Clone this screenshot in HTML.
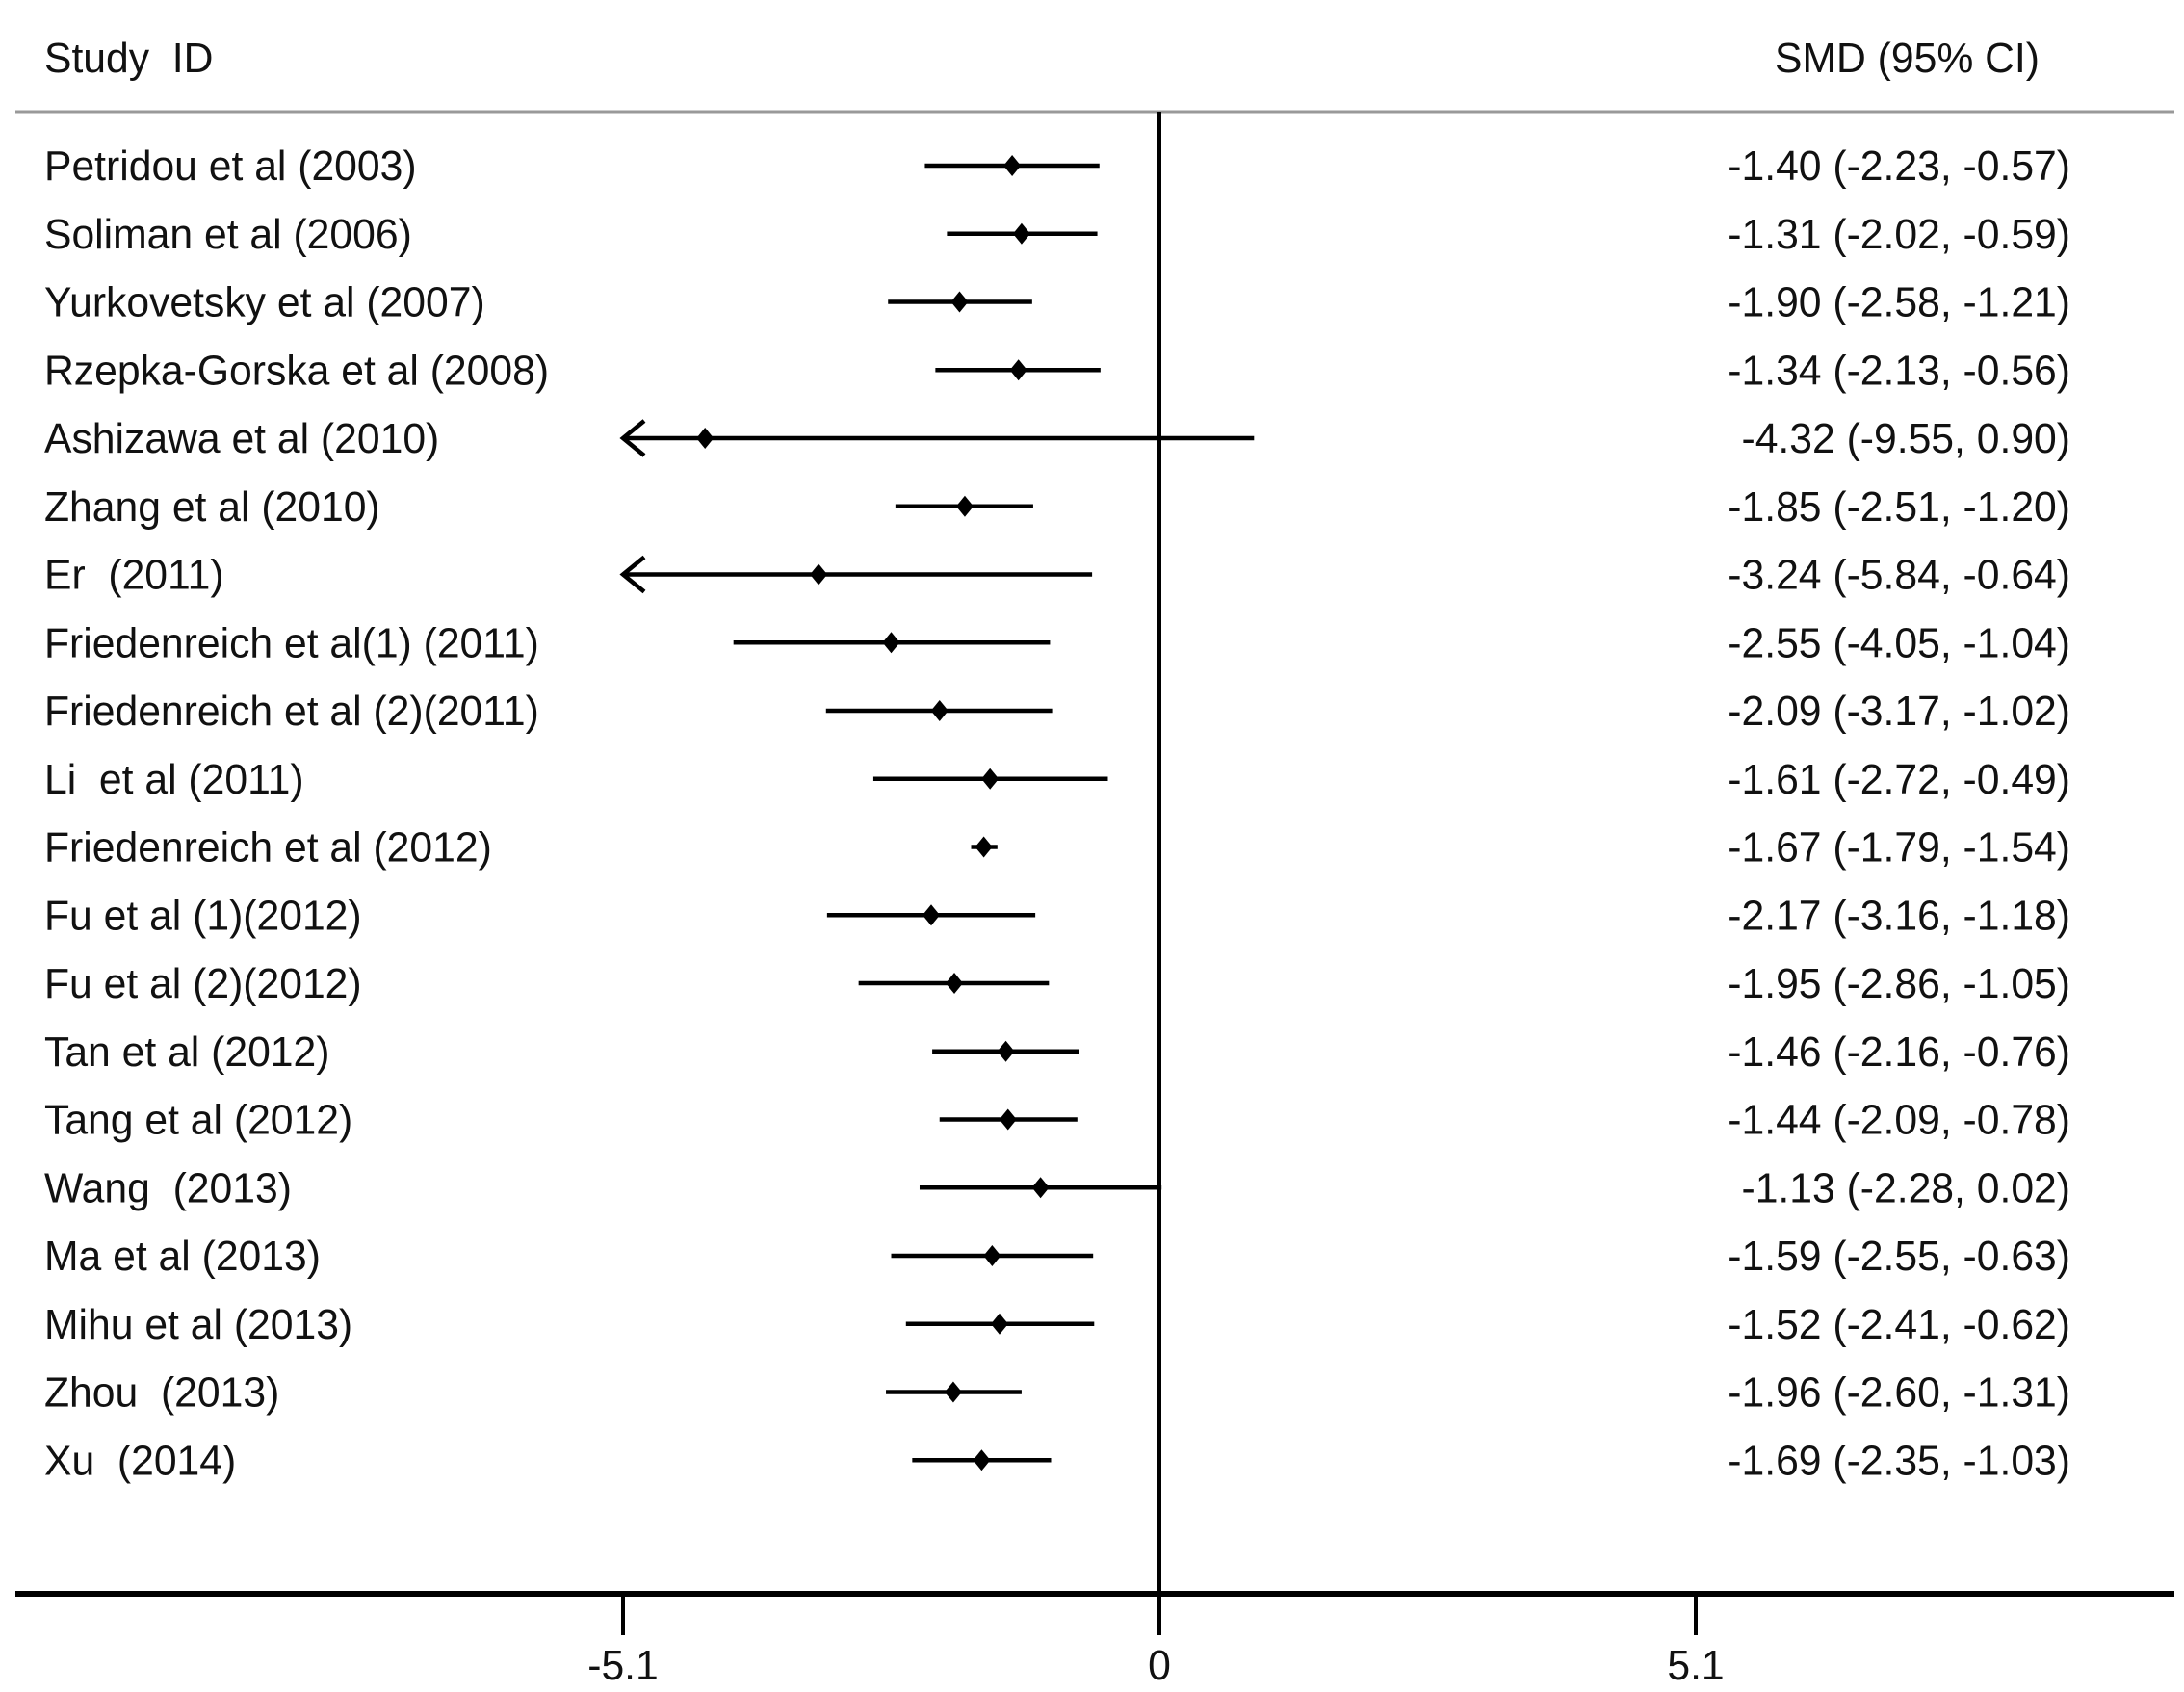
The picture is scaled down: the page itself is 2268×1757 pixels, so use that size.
<!DOCTYPE html>
<html><head><meta charset="utf-8"><style>
html,body{margin:0;padding:0;background:#fff;}
svg text{font-family:"Liberation Sans",Arial,sans-serif;fill:#111;white-space:pre;}
</style></head><body>
<svg id="chart" width="2268" height="1752" viewBox="0 0 2268 1752" xmlns="http://www.w3.org/2000/svg">
<text transform="translate(46,75) scale(0.97,1)" font-size="44">Study  ID</text>
<text transform="translate(2118,75) scale(0.97,1)" font-size="44" text-anchor="end">SMD (95% CI)</text>
<line x1="16" y1="116" x2="2258" y2="116" stroke="#999" stroke-width="3"/>
<line x1="1204" y1="116" x2="1204" y2="1655" stroke="#000" stroke-width="4"/>
<line x1="16" y1="1655" x2="2258" y2="1655" stroke="#000" stroke-width="6"/>
<g id="rows"></g>
<g id="axis"></g>
</svg>
<script>
const studies=["Petridou et al (2003)","Soliman et al (2006)","Yurkovetsky et al (2007)","Rzepka-Gorska et al (2008)","Ashizawa et al (2010)","Zhang et al (2010)","Er  (2011)","Friedenreich et al(1) (2011)","Friedenreich et al (2)(2011)","Li  et al (2011)","Friedenreich et al (2012)","Fu et al (1)(2012)","Fu et al (2)(2012)","Tan et al (2012)","Tang et al (2012)","Wang  (2013)","Ma et al (2013)","Mihu et al (2013)","Zhou  (2013)","Xu  (2014)"];
const smd=[-1.40,-1.31,-1.90,-1.34,-4.32,-1.85,-3.24,-2.55,-2.09,-1.61,-1.67,-2.17,-1.95,-1.46,-1.44,-1.13,-1.59,-1.52,-1.96,-1.69];
const lower=[-2.23,-2.02,-2.58,-2.13,-9.55,-2.51,-5.84,-4.05,-3.17,-2.72,-1.79,-3.16,-2.86,-2.16,-2.09,-2.28,-2.55,-2.41,-2.60,-2.35];
const upper=[-0.57,-0.59,-1.21,-0.56,0.90,-1.20,-0.64,-1.04,-1.02,-0.49,-1.54,-1.18,-1.05,-0.76,-0.78,0.02,-0.63,-0.62,-1.31,-1.03];
const ticks=[-5.1,0,5.1];
const tickLabels=["-5.1","0","5.1"];
const NS="http://www.w3.org/2000/svg";
const xMin=-5.1,xMax=5.1;
function xs(v){return 1204+v*(557/5.1);}
function ys(i){return 172+i*70.75;}
function fmt(v){return v.toFixed(2);}
const rows=document.getElementById('rows');
function mk(tag,attrs,parent){const e=document.createElementNS(NS,tag);for(const k in attrs)e.setAttribute(k,attrs[k]);parent.appendChild(e);return e;}
studies.forEach((s,i)=>{
  const y=ys(i);
  const g=mk('g',{},rows);
  
  
  const t=mk('text',{transform:`translate(46,${y+15}) scale(0.97,1)`,'font-size':44},g);
  t.textContent=s;
  
  
  const lo=Math.max(lower[i],xMin),hi=Math.min(upper[i],xMax);
  const ln=mk('line',{x1:xs(lo),y1:y,x2:xs(hi),y2:y,stroke:'#000','stroke-width':4.5},g);
  
  
  if(lower[i]<xMin){
    const a=mk('polyline',{points:`${xs(xMin)+22},${y-18} ${xs(xMin)},${y} ${xs(xMin)+22},${y+18}`,fill:'none',stroke:'#000','stroke-width':4.5},g);
    
    
  }
  const cx=xs(smd[i]);
  const d=mk('polygon',{points:`${cx},${y-11} ${cx+9},${y} ${cx},${y+11} ${cx-9},${y}`,fill:'#000'},g);
  
  
  const r=mk('text',{transform:`translate(2150,${y+15}) scale(0.97,1)`,'font-size':44,'text-anchor':'end'},g);
  r.textContent=`${fmt(smd[i])} (${fmt(lower[i])}, ${fmt(upper[i])})`;
  
  
});
const ax=document.getElementById('axis');
ticks.forEach((t,i)=>{
  const l=mk('line',{x1:xs(t),y1:1655,x2:xs(t),y2:1698,stroke:'#000','stroke-width':4},ax);
  
  
  const tx=mk('text',{transform:`translate(${xs(t)},1744) scale(0.97,1)`,'font-size':44,'text-anchor':'middle'},ax);
  tx.textContent=tickLabels[i];
  
  
});
</script>
</body></html>
